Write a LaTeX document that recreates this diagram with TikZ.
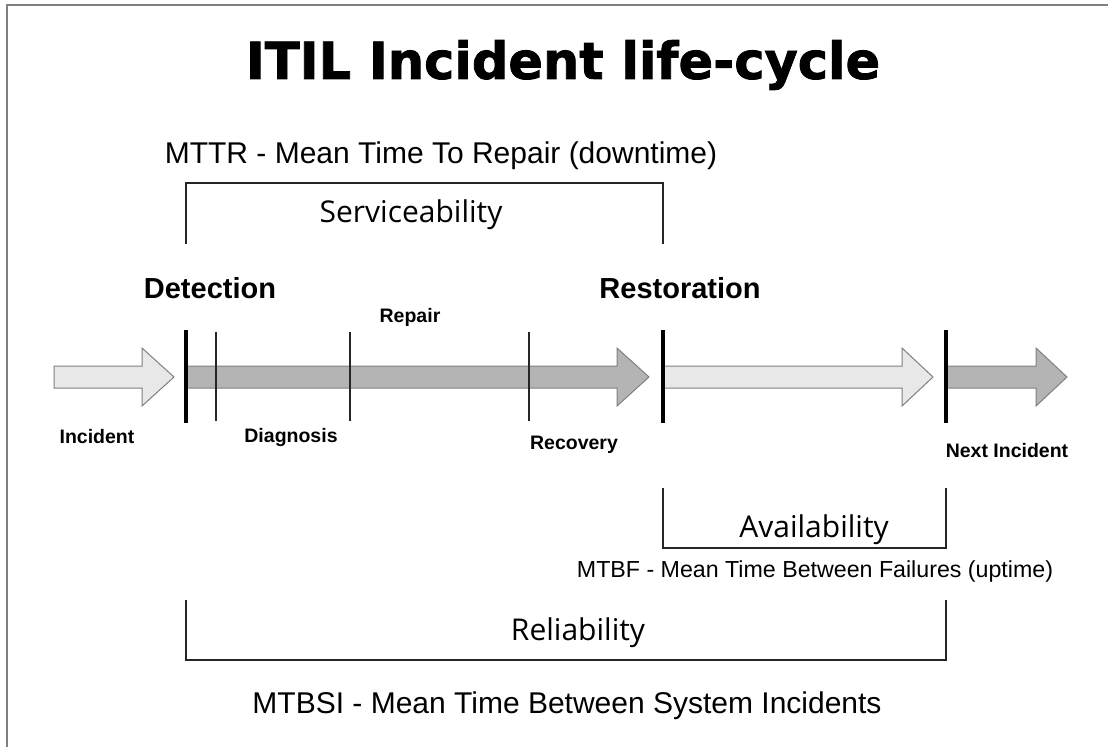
\documentclass[tikz,border=0pt]{standalone}
\usepackage{fontspec}
\setmainfont{Liberation Sans}
\newfontfamily\titlefont{DejaVu Sans}[BoldFeatures={FakeBold=1.6}]
\newfontfamily\handfont{Open Sans}
\usepackage{xcolor}
\usepackage{tikz}
\definecolor{shaftlight}{HTML}{E8E8E8}
\definecolor{shaftdark}{HTML}{B4B4B4}
\definecolor{rimgray}{HTML}{808080}
\newcommand{\fsz}[1]{\fontsize{#1}{#1}\selectfont}
% #1 tail, #2 start of the head, #3 tip, #4 fill
\newcommand{\fatarrow}[4]{%
  \draw[rimgray, fill=#4, line width=1pt]
    (#1,366) -- (#2,366) -- (#2,348) -- (#3,377) -- (#2,406) -- (#2,388) -- (#1,388) -- cycle;}

\begin{document}
\begin{tikzpicture}[x=1pt, y=-1pt, line width=1.8pt,
  bracket/.style={draw=black!85, line width=1.8pt},
  bigbar/.style={draw=black, line width=4pt},
  thinbar/.style={draw=black!85, line width=1.8pt},
  phase/.style={font=\bfseries\fsz{29}},
  minilab/.style={font=\bfseries\fsz{19.5}},
  meantime/.style={font=\fsz{30}},
  quality/.style={font=\handfont\fsz{30}}]
  \useasboundingbox (0,0) rectangle (1108,747);
  \draw[rimgray, line width=2pt] (7,747) -- (7,5) -- (1108,5);

  \node[font=\titlefont\bfseries\fsz{51}] (title) at (563,65) {ITIL Incident life-cycle};

  % where the bars stand
  \coordinate (det) at (186,0);
  \coordinate (dia) at (216,0);
  \coordinate (rep) at (350,0);
  \coordinate (rec) at (529,0);
  \coordinate (res) at (663,0);
  \coordinate (nxt) at (946,0);

  \fatarrow{54}{142}{174}{shaftlight}
  \fatarrow{186}{617}{649}{shaftdark}
  \fatarrow{663}{902}{933}{shaftlight}
  \fatarrow{946}{1036}{1067}{shaftdark}

  \foreach \b in {det,res,nxt}{\draw[bigbar] (\b |- 0,330) -- (\b |- 0,423);}
  \foreach \b in {dia,rep,rec}{\draw[thinbar] (\b |- 0,332) -- (\b |- 0,421);}

  \node[meantime] (mttr) at (441,156) {MTTR - Mean Time To Repair (downtime)};
  \draw[bracket] (det |- 0,244) |- (res |- 0,183) -- (res |- 0,244);
  \node[quality] (svc) at (411,215) {Serviceability};

  \node[phase] (detection) at (210,288) {Detection};
  \node[phase] (restoration) at (680,288) {Restoration};
  \node[minilab] (repair) at (410,317) {Repair};
  \node[minilab] (incident) at (97,437) {Incident};
  \node[minilab] (diagnosis) at (291,437) {Diagnosis};
  \node[minilab] (recovery) at (574,445) {Recovery};
  \node[minilab] (next) at (1007,451) {Next Incident};

  \draw[bracket] (res |- 0,488) |- (nxt |- 0,548) -- (nxt |- 0,488);
  \node[quality] (avail) at (814,530) {Availability};
  \node[font=\fsz{23.2}] (mtbf) at (815,571) {MTBF - Mean Time Between Failures (uptime)};

  \draw[bracket] (det |- 0,600) |- (nxt |- 0,660) -- (nxt |- 0,600);
  \node[quality] (rel) at (578,633) {Reliability};
  \node[meantime] (mtbsi) at (567,706) {MTBSI - Mean Time Between System Incidents};
\end{tikzpicture}
\end{document}
